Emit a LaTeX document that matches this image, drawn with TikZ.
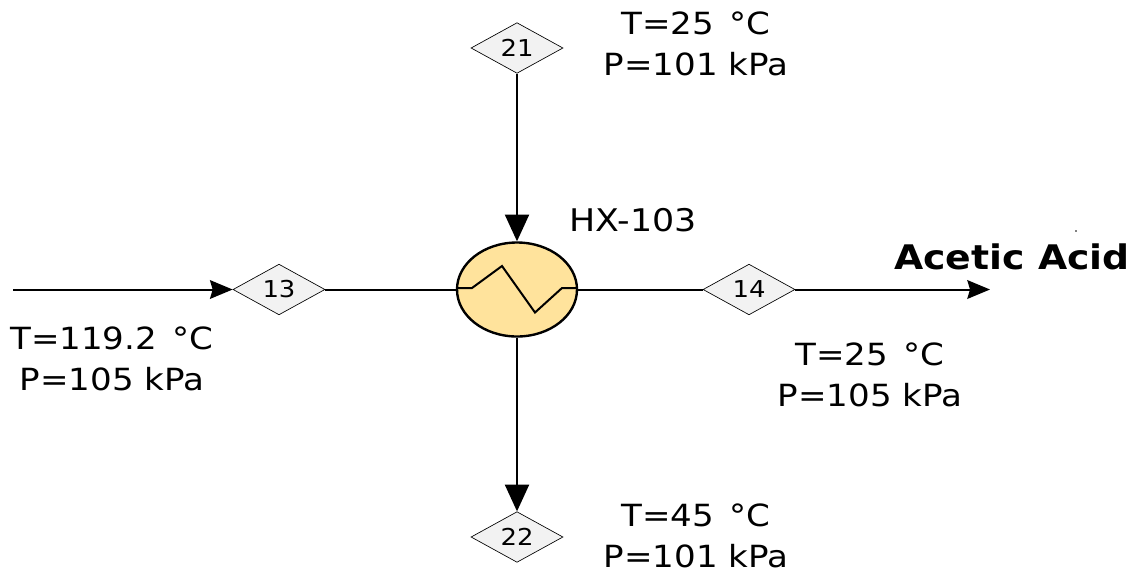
\documentclass[tikz,border=0pt]{standalone}
\usepackage{fontspec}
\setmainfont{DejaVu Sans}
\newfontfamily\widefont[FakeStretch=1.115]{DejaVu Sans}
\usetikzlibrary{shapes.geometric,arrows.meta}
\definecolor{hxfill}{HTML}{FFE39C}
\definecolor{tagfill}{HTML}{F2F2F2}
\tikzset{
 tag/.style={diamond,draw=black,fill=tagfill,line width=0.5pt,minimum width=69bp,minimum height=38bp,inner sep=0pt,aspect=1.8,font=\widefont\fontsize{17.5}{17.5}\selectfont},
 lab/.style={align=center,font=\widefont\fontsize{23}{31}\selectfont,inner sep=0pt},
 flow/.style={line width=1.5pt,draw=black},
 arrs/.style={flow,-{Stealth[length=17bp,width=14bp,inset=2bp]}},
 arrl/.style={flow,-{Triangle[length=20bp,width=18bp]}}
}
\begin{document}
\begin{tikzpicture}[x=0.75bp,y=-0.75bp]
\useasboundingbox (0,0) rectangle (1130,573);
\node[tag] (d21) at (517,48) {21};
\node[tag] (d13) at (279,289.5) {13};
\node[tag] (d14) at (749,289.5) {14};
\node[tag] (d22) at (517,537) {22};
\node[ellipse,draw=black,fill=hxfill,line width=1.8pt,minimum width=90bp,minimum height=70.5bp,inner sep=0pt] (hx) at (517,289.5) {};
\coordinate (in) at (13,289.5);
\coordinate (out) at (990,289.5);
\draw[arrs] (in) -- (d13.west);
\draw[flow] (d13.east) -- (hx.west);
\draw[flow] (hx.east) -- (d14.west);
\draw[arrs] (d14.east) -- (out);
\draw[arrl] (d21.south) -- (hx.north);
\draw[arrl] (hx.south) -- (d22.north);
\draw[flow,line join=miter] (457,288) -- (472,288) -- (502,266) -- (535,312.5) -- (562,288) -- (577,288);
\node[lab] (t21) at (696,43.5) {T=25 \,°C\\P=101 kPa};
\node[lab] (t13) at (112,358.5) {T=119.2 \,°C\\P=105 kPa};
\node[lab] (t14) at (870,375) {T=25 \,°C\\P=105 kPa};
\node[lab] (t22) at (696,536) {T=45 \,°C\\P=101 kPa};
\node[lab,anchor=west,font=\widefont\fontsize{23.5}{23.5}\selectfont] (hxl) at (569,220) {HX-103};
\node[lab,anchor=west,font=\widefont\bfseries\fontsize{25.5}{25.5}\selectfont] (aa) at (894,257) {Acetic Acid};
\fill (1076,231) circle (0.8);
\end{tikzpicture}
\end{document}
